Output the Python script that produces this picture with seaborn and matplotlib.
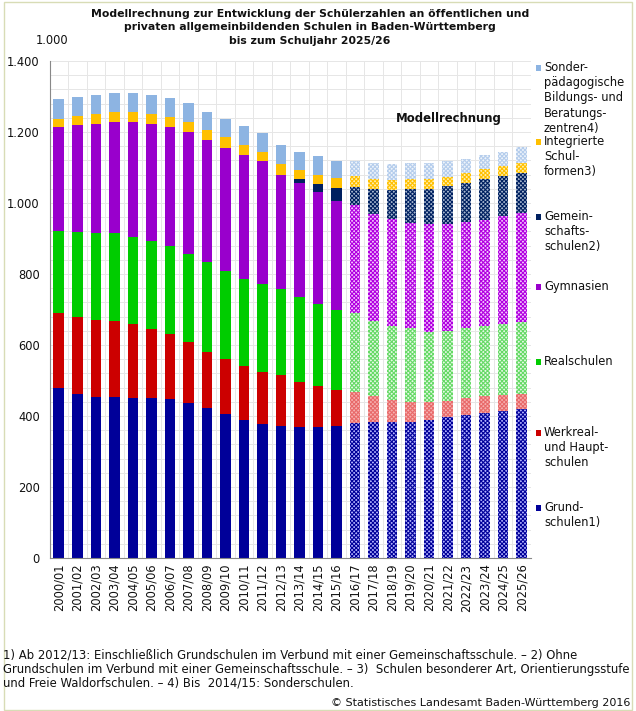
import numpy as np
import pandas as pd
import matplotlib
matplotlib.use("Agg")
import matplotlib.pyplot as plt
import seaborn as sns
from matplotlib.ticker import FixedLocator, MultipleLocator, FuncFormatter
from matplotlib.patches import Rectangle

# Schuljahre (ab 2016/17 Modellrechnung)
years = ["2000/01", "2001/02", "2002/03", "2003/04", "2004/05", "2005/06",
         "2006/07", "2007/08", "2008/09", "2009/10", "2010/11", "2011/12",
         "2012/13", "2013/14", "2014/15", "2015/16", "2016/17", "2017/18",
         "2018/19", "2019/20", "2020/21", "2021/22", "2022/23", "2023/24",
         "2024/25", "2025/26"]
first_projection = "2016/17"

# Schüler in 1.000
grundschulen = [479, 463, 454, 454, 451, 451, 448, 436, 422, 405, 390, 377, 372,
                368, 368, 372, 379, 384, 384, 384, 389, 396, 404, 409, 415, 421]
werkreal = [210, 217, 216, 213, 207, 194, 183, 173, 159, 156, 152, 147, 143,
            129, 117, 100, 89, 72, 61, 55, 50, 46, 47, 47, 45, 42]
realschulen = [232, 238, 245, 248, 247, 247, 248, 248, 252, 247, 244, 248, 244,
               237, 231, 227, 221, 212, 209, 208, 198, 198, 196, 197, 198, 201]
gymnasien = [292, 302, 308, 314, 324, 331, 335, 342, 344, 348, 348, 345, 321,
             321, 316, 308, 305, 301, 300, 298, 303, 302, 300, 300, 304, 307]
gemeinschaftsschulen = [0, 0, 0, 0, 0, 0, 0, 0, 0, 0, 0, 0, 0,
                        12, 21, 35, 52, 70, 82, 95, 99, 106, 110, 114, 114, 114]
integrierte = [25, 25, 29, 28, 28, 28, 27, 28, 29, 29, 29, 28, 31,
               26, 27, 29, 29, 30, 29, 29, 30, 26, 28, 28, 28, 28]
sonder = [55, 53, 53, 54, 54, 53, 55, 54, 50, 52, 54, 53, 51,
          51, 51, 48, 43, 44, 45, 44, 44, 45, 40, 40, 41, 44]

# Schicht: Werte, Legendentext, Farbe, Füllung Modellrechnung, Muster Modellrechnung, Legenden-y (px)
layers = [
    (grundschulen, "Grund-\nschulen1)", "#000099", "#B3B3FF", "#000099", 508),
    (werkreal, "Werkreal-\nund Haupt-\nschulen", "#CC0000", "#F7B0B0", "#E86A6A", 433),
    (realschulen, "Realschulen", "#00CC00", "#E6FAE6", "#66D966", 362),
    (gymnasien, "Gymnasien", "#9900CC", "#F5C6FF", "#B000E0", 287),
    (gemeinschaftsschulen, "Gemein-\nschafts-\nschulen2)", "#002060", "#A8B8D0", "#002060", 217),
    (integrierte, "Integrierte\nSchul-\nformen3)", "#FFC000", "#FFF0B0", "#FFC000", 142),
    (sonder, "Sonder-\npädagogische\nBildungs- und\nBeratungs-\nzentren4)", "#8DB4E2", "#EEF4FB", "#B5CDEC", 68),
]

sns.set_theme(style="white")
plt.rcParams["font.family"] = ["DejaVu Sans"]
plt.rcParams["hatch.linewidth"] = 0.8

W, H = 636, 711
fig = plt.figure(figsize=(W / 100, H / 100), dpi=100)
ax = fig.add_axes([49.5 / W, 1 - 558 / H, (531 - 49.5) / W, (558 - 61) / H])

proj_start = years.index(first_projection)
bottom = np.zeros(len(years))
for vals, label, color, face, hatch_col, _ in layers:
    df = pd.DataFrame({"jahr": years, "schueler": vals})
    sns.barplot(data=df, x="jahr", y="schueler", order=years, bottom=bottom,
                color=color, saturation=1, width=0.57, errorbar=None,
                linewidth=0, edgecolor=color, ax=ax)
    for i, patch in enumerate(ax.containers[-1]):
        if i >= proj_start:
            patch.set_facecolor(face)
            patch.set_edgecolor(hatch_col)
            patch.set_hatch("xxxxxxxx")
    bottom = bottom + np.array(vals)

ax.set_xlim(-0.5, len(years) - 0.5)
ax.set_ylim(0, 1400)
ax.set_xlabel("")
ax.set_ylabel("")

ax.yaxis.set_major_locator(MultipleLocator(200))
ax.yaxis.set_minor_locator(MultipleLocator(40))
ax.yaxis.set_major_formatter(FuncFormatter(lambda v, p: f"{v:,.0f}".replace(",", ".")))
ax.xaxis.set_minor_locator(FixedLocator(np.arange(-0.5, len(years), 1)))

ax.set_axisbelow(True)
ax.grid(False)
ax.grid(True, which="both", axis="y", color="#E6E6E6", linewidth=0.7)
ax.grid(True, which="minor", axis="x", color="#E6E6E6", linewidth=0.7)

ax.tick_params(axis="x", which="major", length=0, labelsize=8.3, labelcolor="#111111",
               rotation=90, pad=4)
ax.tick_params(axis="x", which="minor", length=4, color="#888888", direction="out")
ax.tick_params(axis="y", which="major", length=4, color="#888888", direction="out",
               labelsize=8.3, labelcolor="#111111", pad=3)
ax.tick_params(axis="y", which="minor", length=0)

for side in ["top", "right"]:
    ax.spines[side].set_visible(False)
for side in ["left", "bottom"]:
    ax.spines[side].set_color("#888888")
    ax.spines[side].set_linewidth(0.8)

ax.text(21.07, 1237, "Modellrechnung", ha="center", va="center",
        fontsize=8.4, fontweight="bold", color="#111111")

# Titel und Einheit
title = ("Modellrechnung zur Entwicklung der Schülerzahlen an öffentlichen und\n"
         "privaten allgemeinbildenden Schulen in Baden-Württemberg\n"
         "bis zum Schuljahr 2025/26")
fig.text(310 / W, 1 - 9 / H, title, ha="center", va="top", fontsize=7.8,
         fontweight="bold", linespacing=1.42, color="#111111")
fig.text(52 / W, 1 - 40 / H, "1.000", ha="center", va="center", fontsize=8.3,
         color="#111111")

# Legende
for vals, label, color, face, hatch_col, ly in layers:
    fig.patches.append(Rectangle((536 / W, 1 - (ly + 3) / H), 5 / W, 6 / H,
                                 transform=fig.transFigure, facecolor=color,
                                 edgecolor="none"))
    fig.text(544 / W, 1 - (ly - 7) / H, label, ha="left", va="top",
             fontsize=8.3, linespacing=1.22, color="#111111")

# Fußnoten
notes = ("1) Ab 2012/13: Einschließlich Grundschulen im Verbund mit einer Gemeinschaftsschule. – 2) Ohne\n"
         "Grundschulen im Verbund mit einer Gemeinschaftsschule. – 3)  Schulen besonderer Art, Orientierungsstufe\n"
         "und Freie Waldorfschulen. – 4) Bis  2014/15: Sonderschulen.")
fig.text(3 / W, 1 - 648 / H, notes, ha="left", va="top", fontsize=8.4,
         linespacing=1.15, color="#111111")
fig.text(630 / W, 1 - 703 / H, "© Statistisches Landesamt Baden-Württemberg 2016",
         ha="right", va="center", fontsize=8.0, color="#111111")

fig.patches.append(Rectangle((4 / W, 1 / H), 628 / W, 708 / H, transform=fig.transFigure,
                             facecolor="none", edgecolor="#D8DCB6", linewidth=1))

fig.savefig("out.png", dpi=100)
